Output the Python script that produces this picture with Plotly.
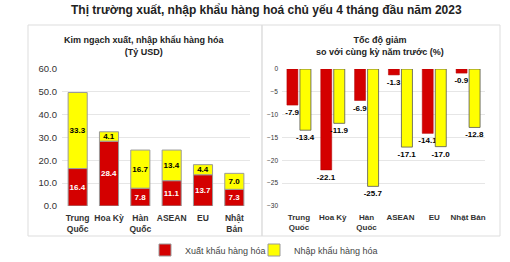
import plotly.graph_objects as go

# ---- data ----
cats_left = ["Trung<br>Quốc", "Hoa Kỳ", "Hàn<br>Quốc", "ASEAN", "EU", "Nhật<br>Bản"]
cats_right = ["Trung<br>Quốc", "Hoa Kỳ", "Hàn<br>Quốc", "ASEAN", "EU", "Nhật Bản"]
export_value = [16.4, 28.4, 7.8, 11.1, 13.7, 7.3]
import_value = [33.3, 4.1, 16.7, 13.4, 4.4, 7.0]
export_change = [-7.9, -22.1, -6.9, -1.3, -14.1, -0.9]
import_change = [-13.4, -11.9, -25.7, -17.1, -17.0, -12.8]
left_ticks = [0, 10, 20, 30, 40, 50, 60]
right_ticks = [0, -5, -10, -15, -20, -25, -30]

title = "Thị trường xuất, nhập khẩu hàng hoá chủ yếu 4 tháng đầu năm 2023"
sub_left = "Kim ngạch xuất, nhập khẩu hàng hóa<br>(Tỷ USD)"
sub_right = "Tốc độ giảm<br>so với cùng kỳ năm trước (%)"
name_export = "Xuất khẩu hàng hóa"
name_import = "Nhập khẩu hàng hóa"

RED = "#d40000"
YEL = "#ffff00"
FONT = "Liberation Sans, Arial, sans-serif"
W, H = 510, 262

def px(x):
    return x / W

def py(y):
    return 1 - y / H

fig = go.Figure()

# left stacked bars (overlay with explicit base)
fig.add_trace(go.Bar(
    x=cats_left, y=export_value, name=name_export, width=0.61,
    marker=dict(color=RED, line=dict(color="#9a9a9a", width=1)),
    text=[f"{v:.1f}" for v in export_value], textposition="inside",
    insidetextanchor="middle", textangle=0, constraintext="none",
    insidetextfont=dict(color="white", size=8, family=FONT, weight="bold"),
    xaxis="x", yaxis="y", legend="legend", showlegend=True,
))
fig.add_trace(go.Bar(
    x=cats_left, y=import_value, base=export_value, name=name_import, width=0.61,
    marker=dict(color=YEL, line=dict(color="#9a9a9a", width=1)),
    text=[f"{v:.1f}" for v in import_value], textposition="inside",
    insidetextanchor="middle", textangle=0, constraintext="none",
    insidetextfont=dict(color="black", size=8, family=FONT, weight="bold"),
    xaxis="x", yaxis="y", legend="legend2", showlegend=True,
))

# right grouped bars
fig.add_trace(go.Bar(
    x=cats_right, y=export_change, name=name_export, width=0.325, offset=-0.355,
    marker=dict(color=RED, line=dict(color="#b00000", width=0.5)),
    text=[f"{v:.1f}" for v in export_change], textposition="outside",
    constraintext="none", cliponaxis=False,
    outsidetextfont=dict(color="black", size=8, family=FONT, weight="bold"),
    xaxis="x2", yaxis="y2", showlegend=False,
))
fig.add_trace(go.Bar(
    x=cats_right, y=import_change, name=name_import, width=0.325, offset=0.03,
    marker=dict(color=YEL, line=dict(color="#555555", width=0.8)),
    text=[f"{v:.1f}" for v in import_change], textposition="outside",
    constraintext="none", cliponaxis=False,
    outsidetextfont=dict(color="black", size=8, family=FONT, weight="bold"),
    xaxis="x2", yaxis="y2", showlegend=False,
))

ydom = [py(206), py(69)]
leg = dict(orientation="h", xanchor="left", yanchor="middle", y=py(250),
           font=dict(size=9, color="#444"), bgcolor="rgba(0,0,0,0)", itemclick=False)
fig.update_layout(
    width=W, height=H, autosize=False,
    margin=dict(l=0, r=0, t=0, b=0, autoexpand=False),
    paper_bgcolor="white", plot_bgcolor="white",
    barmode="overlay",
    font=dict(family=FONT, color="#333333"),
    xaxis=dict(domain=[px(62), px(250)], showgrid=False, zeroline=False,
               showline=False, ticks="", ticklabelstandoff=5, automargin=False,
               tickfont=dict(size=8.5, color="#333", weight="bold"), fixedrange=True),
    yaxis=dict(domain=ydom, range=[0, 60], tickvals=left_ticks, tickformat=".1f",
               showgrid=True, gridcolor="#e6e6e6", gridwidth=1, zeroline=False,
               automargin=False,
               tickfont=dict(size=9.5, color="#333"), ticks="", ticklabelstandoff=4),
    xaxis2=dict(domain=[px(282), px(485)], anchor="y2", showgrid=False, zeroline=False,
                showline=False, ticks="", ticklabelstandoff=5, automargin=False,
                tickfont=dict(size=8, color="#333", weight="bold")),
    yaxis2=dict(domain=ydom, anchor="x2", range=[-30, 0], tickvals=right_ticks,
                showgrid=True, gridcolor="#e6e6e6", gridwidth=1, zeroline=False,
                automargin=False,
                tickfont=dict(size=6.5, color="#333"), ticks="", ticklabelstandoff=3),
    legend=dict(x=px(145), **leg),
    legend2=dict(x=px(254), **leg),
    showlegend=True,
)

ann = dict(xref="paper", yref="paper", showarrow=False, xanchor="center", yanchor="middle")
fig.add_annotation(text=title, x=px(266), y=py(10),
                   font=dict(size=12, color="#222", weight="bold"), **ann)
fig.add_annotation(text=sub_left, x=px(144), y=py(46),
                   font=dict(size=9, color="#222", weight="bold"), **ann)
fig.add_annotation(text=sub_right, x=px(380), y=py(46),
                   font=dict(size=9, color="#222", weight="bold"), **ann)

box = dict(type="rect", xref="paper", yref="paper", line=dict(color="#dddddd", width=1),
           layer="below")
fig.add_shape(x0=px(28), x1=px(262), y0=py(236), y1=py(25), **box)
fig.add_shape(x0=px(262), x1=px(500), y0=py(236), y1=py(25), **box)

fig.write_html("out.html")
